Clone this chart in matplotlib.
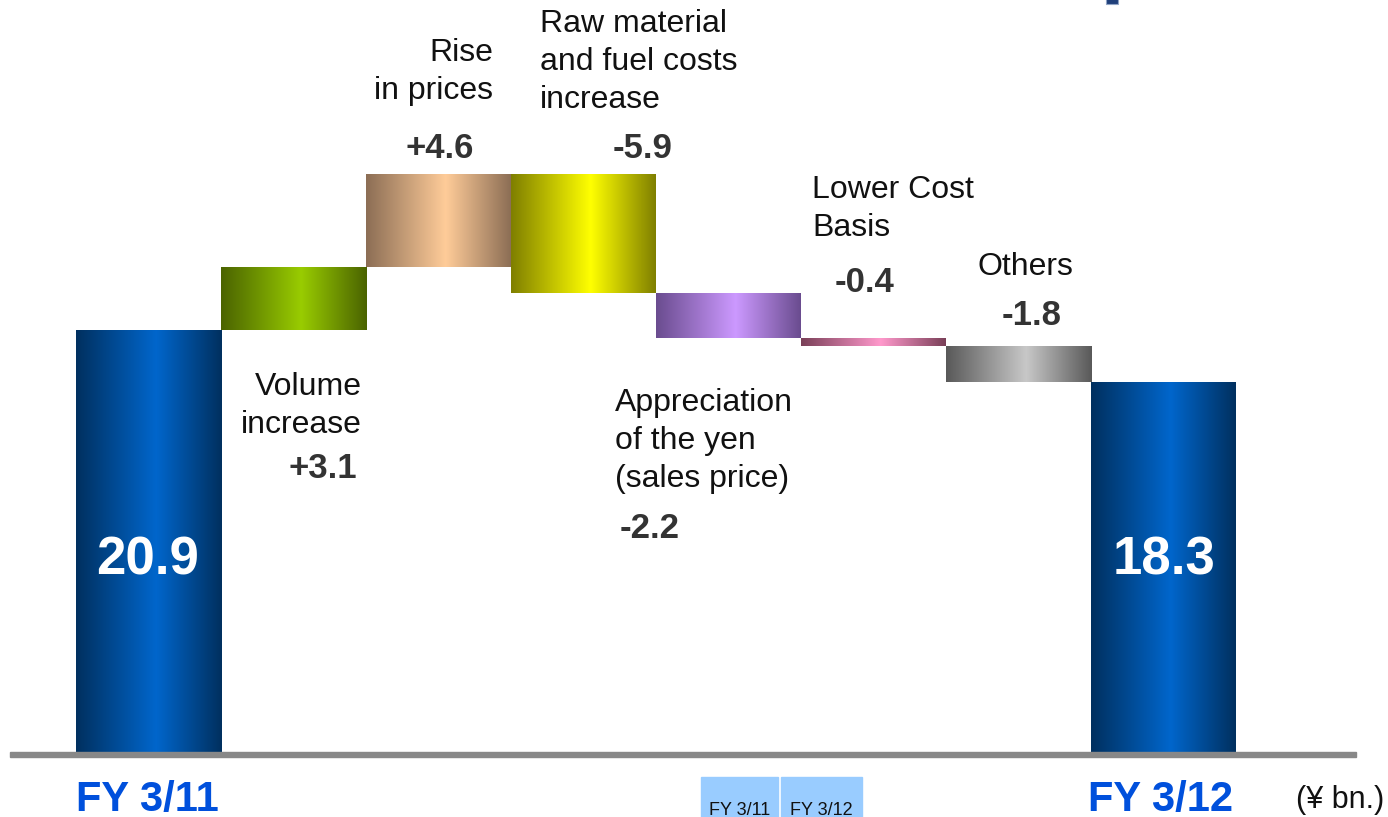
import numpy as np
import matplotlib
matplotlib.use("Agg")
import matplotlib.pyplot as plt
from matplotlib.colors import LinearSegmentedColormap
from matplotlib.patches import Rectangle
import matplotlib.transforms as mtransforms

plt.rcParams['font.family'] = ['Liberation Sans', 'DejaVu Sans']

# ---- data ----
start_label = "FY 3/11"
end_label = "FY 3/12"
start_value = 20.9
end_value = 18.3
change_labels = ["Volume\nincrease", "Rise\nin prices", "Raw material\nand fuel costs\nincrease",
                 "Appreciation\nof the yen\n(sales price)", "Lower Cost\nBasis", "Others"]
change_values = [3.1, 4.6, -5.9, -2.2, -0.4, -1.8]
unit_label = "(¥ bn.)"

# gradient colours (edge, centre)
total_colors = ("#00305f", "#0066cc")
change_colors = [("#4a6300", "#99cc00"), ("#8c6e55", "#ffcc99"), ("#7f7f00", "#ffff00"),
                 ("#6a4c8f", "#cc99ff"), ("#7a4058", "#ff99cc"), ("#595959", "#c8c8c8")]

W, H = 1388, 817
fig = plt.figure(figsize=(W / 100, H / 100), dpi=100)
ax = fig.add_axes([0, 0, 1, 1])
ax.axis('off')

# pixel transform (origin top-left)
pix = mtransforms.Affine2D().scale(1 / W, -1 / H).translate(0, 1) + fig.transFigure

# scale: baseline at pixel y=752, 20.2 px per unit; bar i centre at 148 + 145*i
ppu = 20.2
base_px = 752
xlim = (-148 / 145, (W - 148) / 145)
ylim = (-(H - base_px) / ppu, base_px / ppu)

n = len(change_values)
x = np.arange(n + 2)
cum = start_value + np.cumsum(change_values)
prev = np.concatenate([[start_value], cum[:-1]])
bottoms = np.minimum(prev, cum)
heights = np.abs(change_values)

all_bottoms = [0] + list(bottoms) + [0]
all_heights = [start_value] + list(heights) + [end_value]
all_colors = [total_colors] + change_colors + [total_colors]

bars = ax.bar(x, all_heights, bottom=all_bottoms, width=1.0, color='none', edgecolor='none', zorder=2)

grad = np.linspace(0, 1, 256)[None, :]
for bar, (edge, centre) in zip(bars, all_colors):
    cmap = LinearSegmentedColormap.from_list("g", [(0, edge), (0.55, centre), (1, edge)])
    x0, y0 = bar.get_x(), bar.get_y()
    w, h = bar.get_width(), bar.get_height()
    im = ax.imshow(grad, cmap=cmap, aspect='auto', extent=(x0, x0 + w, y0, y0 + h),
                   interpolation='bilinear', zorder=2)
    im.set_clip_path(bar)

ax.set_xlim(*xlim)
ax.set_ylim(*ylim)

# baseline
ax.add_patch(Rectangle((10, 752), 1346, 5, transform=pix, color="#888888", zorder=3, clip_on=False))

# total values inside bars
ax.text(148, 561, f"{start_value:.1f}", transform=pix, ha='center', va='center', color='white',
        fontsize=38, fontweight='bold')
ax.text(1164, 561, f"{end_value:.1f}", transform=pix, ha='center', va='center', color='white',
        fontsize=38, fontweight='bold')

# category labels
lab_kw = dict(transform=pix, fontsize=23, color='#111111', linespacing=1.36)
val_kw = dict(transform=pix, fontsize=25, color='#333333', fontweight='bold')
vals = [f"{v:+.1f}" for v in change_values]

ax.text(362, 406, change_labels[0], ha='right', va='center', multialignment='right', **lab_kw)
ax.text(357, 469, vals[0], ha='right', va='center', **val_kw)

ax.text(493, 72, change_labels[1], ha='right', va='center', multialignment='right', **lab_kw)
ax.text(440, 148, vals[1], ha='center', va='center', **val_kw)

ax.text(540, 62, change_labels[2], ha='left', va='center', **lab_kw)
ax.text(643, 148, vals[2], ha='center', va='center', **val_kw)

ax.text(615, 441, change_labels[3], ha='left', va='center', **lab_kw)
ax.text(620, 529, vals[3], ha='left', va='center', **val_kw)

ax.text(812, 209, change_labels[4], ha='left', va='center', **lab_kw)
ax.text(865, 283, vals[4], ha='center', va='center', **val_kw)

ax.text(1025, 267, change_labels[5], ha='center', va='center', **lab_kw)
ax.text(1032, 316, vals[5], ha='center', va='center', **val_kw)

# x labels
ax.text(147, 811, start_label, transform=pix, ha='center', va='baseline', color='#0050dc',
        fontsize=30, fontweight='bold')
ax.text(1161, 811, end_label, transform=pix, ha='center', va='baseline', color='#0050dc',
        fontsize=30, fontweight='bold')
ax.text(1340, 800, unit_label, transform=pix, ha='center', va='center', color='#111111', fontsize=22)

# small legend-like boxes at the bottom
for bx, bw, t in [(701, 77, start_label), (781, 81, end_label)]:
    ax.add_patch(Rectangle((bx, 777), bw, 45, transform=pix, color="#99ccff", zorder=3, clip_on=False))
    ax.text(bx + bw / 2, 815.5, t, transform=pix, ha='center', va='baseline', fontsize=13,
            color='#111111', zorder=4)

# small navy mark at top right
ax.add_patch(Rectangle((1106, -2), 12, 6, transform=pix, facecolor="#1f3f7a", edgecolor="#8fa3c4",
                       lw=0.8, zorder=3, clip_on=False))

fig.savefig("out.png", dpi=100)
